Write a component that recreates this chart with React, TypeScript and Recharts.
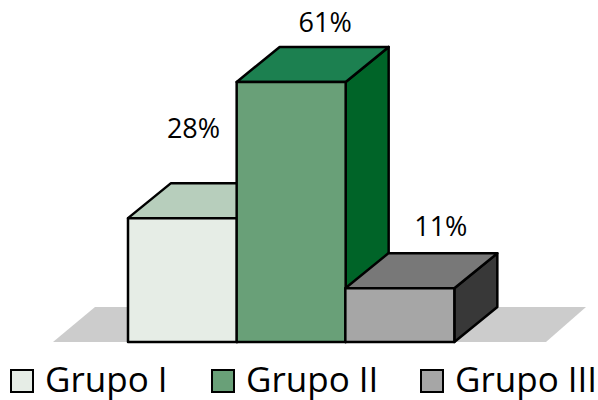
import React from "react";
import { BarChart, Bar, XAxis, YAxis, LabelList } from "recharts";

const categories = ["Grupo I", "Grupo II", "Grupo III"];
const percentages = [28, 61, 11];
const frontColors = ["#e6ede6", "#69a078", "#a6a6a6"];
const topColors = ["#b7cebc", "#1c8050", "#787878"];
const sideColors = ["#8fa896", "#006428", "#383838"];
const labelShiftX = [11, 34, 41];
const labelRise = [80, 50, 52];

const DEPTH_X = 43;
const DEPTH_Y = 35;
const FLOOR_VALUE = -2;
const FONT = "'Open Sans', 'Noto Sans', sans-serif";

const rows = categories.map((name, i) => ({ name, value: percentages[i], span: [FLOOR_VALUE, percentages[i]] }));

function Box3D(props: any) {
  const { x, y, width, height, index } = props;
  const r = x + width;
  const b = y + height;
  const stroke = { stroke: "#000", strokeWidth: 2.5, strokeLinejoin: "round" as const };
  return (
    <g>
      {index === 0 && (
        <polygon
          points={`${x - 75},${b} ${x - 33},${b - DEPTH_Y} ${r + width * 2 + 131},${b - DEPTH_Y} ${r + width * 2 + 91},${b}`}
          fill="#cccccc"
        />
      )}
      <polygon
        points={`${r},${y} ${r + DEPTH_X},${y - DEPTH_Y} ${r + DEPTH_X},${b - DEPTH_Y} ${r},${b}`}
        fill={sideColors[index]}
        {...stroke}
      />
      <polygon
        points={`${x},${y} ${x + DEPTH_X},${y - DEPTH_Y} ${r + DEPTH_X},${y - DEPTH_Y} ${r},${y}`}
        fill={topColors[index]}
        {...stroke}
      />
      <rect x={x} y={y} width={width} height={height} fill={frontColors[index]} {...stroke} />
    </g>
  );
}

function ValueLabel(props: any) {
  const { x, y, width, index } = props;
  return (
    <text
      x={x + width / 2 + labelShiftX[index]}
      y={y - labelRise[index]}
      textAnchor="middle"
      fontFamily={FONT}
      fontSize={27}
      fill="#000"
    >
      {percentages[index]}%
    </text>
  );
}

const legendX = [10, 211, 420];

function LegendRow() {
  return (
    <div style={{ position: "absolute", left: 0, top: 0, width: 598, height: 400, overflow: "hidden", pointerEvents: "none" }}>
      {categories.map((name, i) => (
        <div key={name} style={{ position: "absolute", left: legendX[i], top: 359, height: 40, display: "flex", alignItems: "center", whiteSpace: "nowrap" }}>
          <span style={{ display: "inline-block", width: 20, height: 20, boxSizing: "content-box", background: frontColors[i], border: "2px solid #000", marginRight: 11, marginTop: 4 }} />
          <span style={{ fontFamily: FONT, fontSize: 35, color: "#000", lineHeight: "40px" }}>{name}</span>
        </div>
      ))}
    </div>
  );
}

export default function App() {
  return (
    <div style={{ position: "absolute", left: 0, top: 0, width: 598, height: 400, background: "#fff" }}>
      <BarChart
        width={598}
        height={400}
        data={rows}
        margin={{ top: 20, right: 144, bottom: 58, left: 128 }}
        barCategoryGap={0}
      >
        <XAxis dataKey="name" hide />
        <YAxis hide domain={[FLOOR_VALUE, 76]} />
        <Bar dataKey="span" isAnimationActive={false} shape={<Box3D />}>
          <LabelList dataKey="value" content={<ValueLabel />} />
        </Bar>
      </BarChart>
      <LegendRow />
    </div>
  );
}
